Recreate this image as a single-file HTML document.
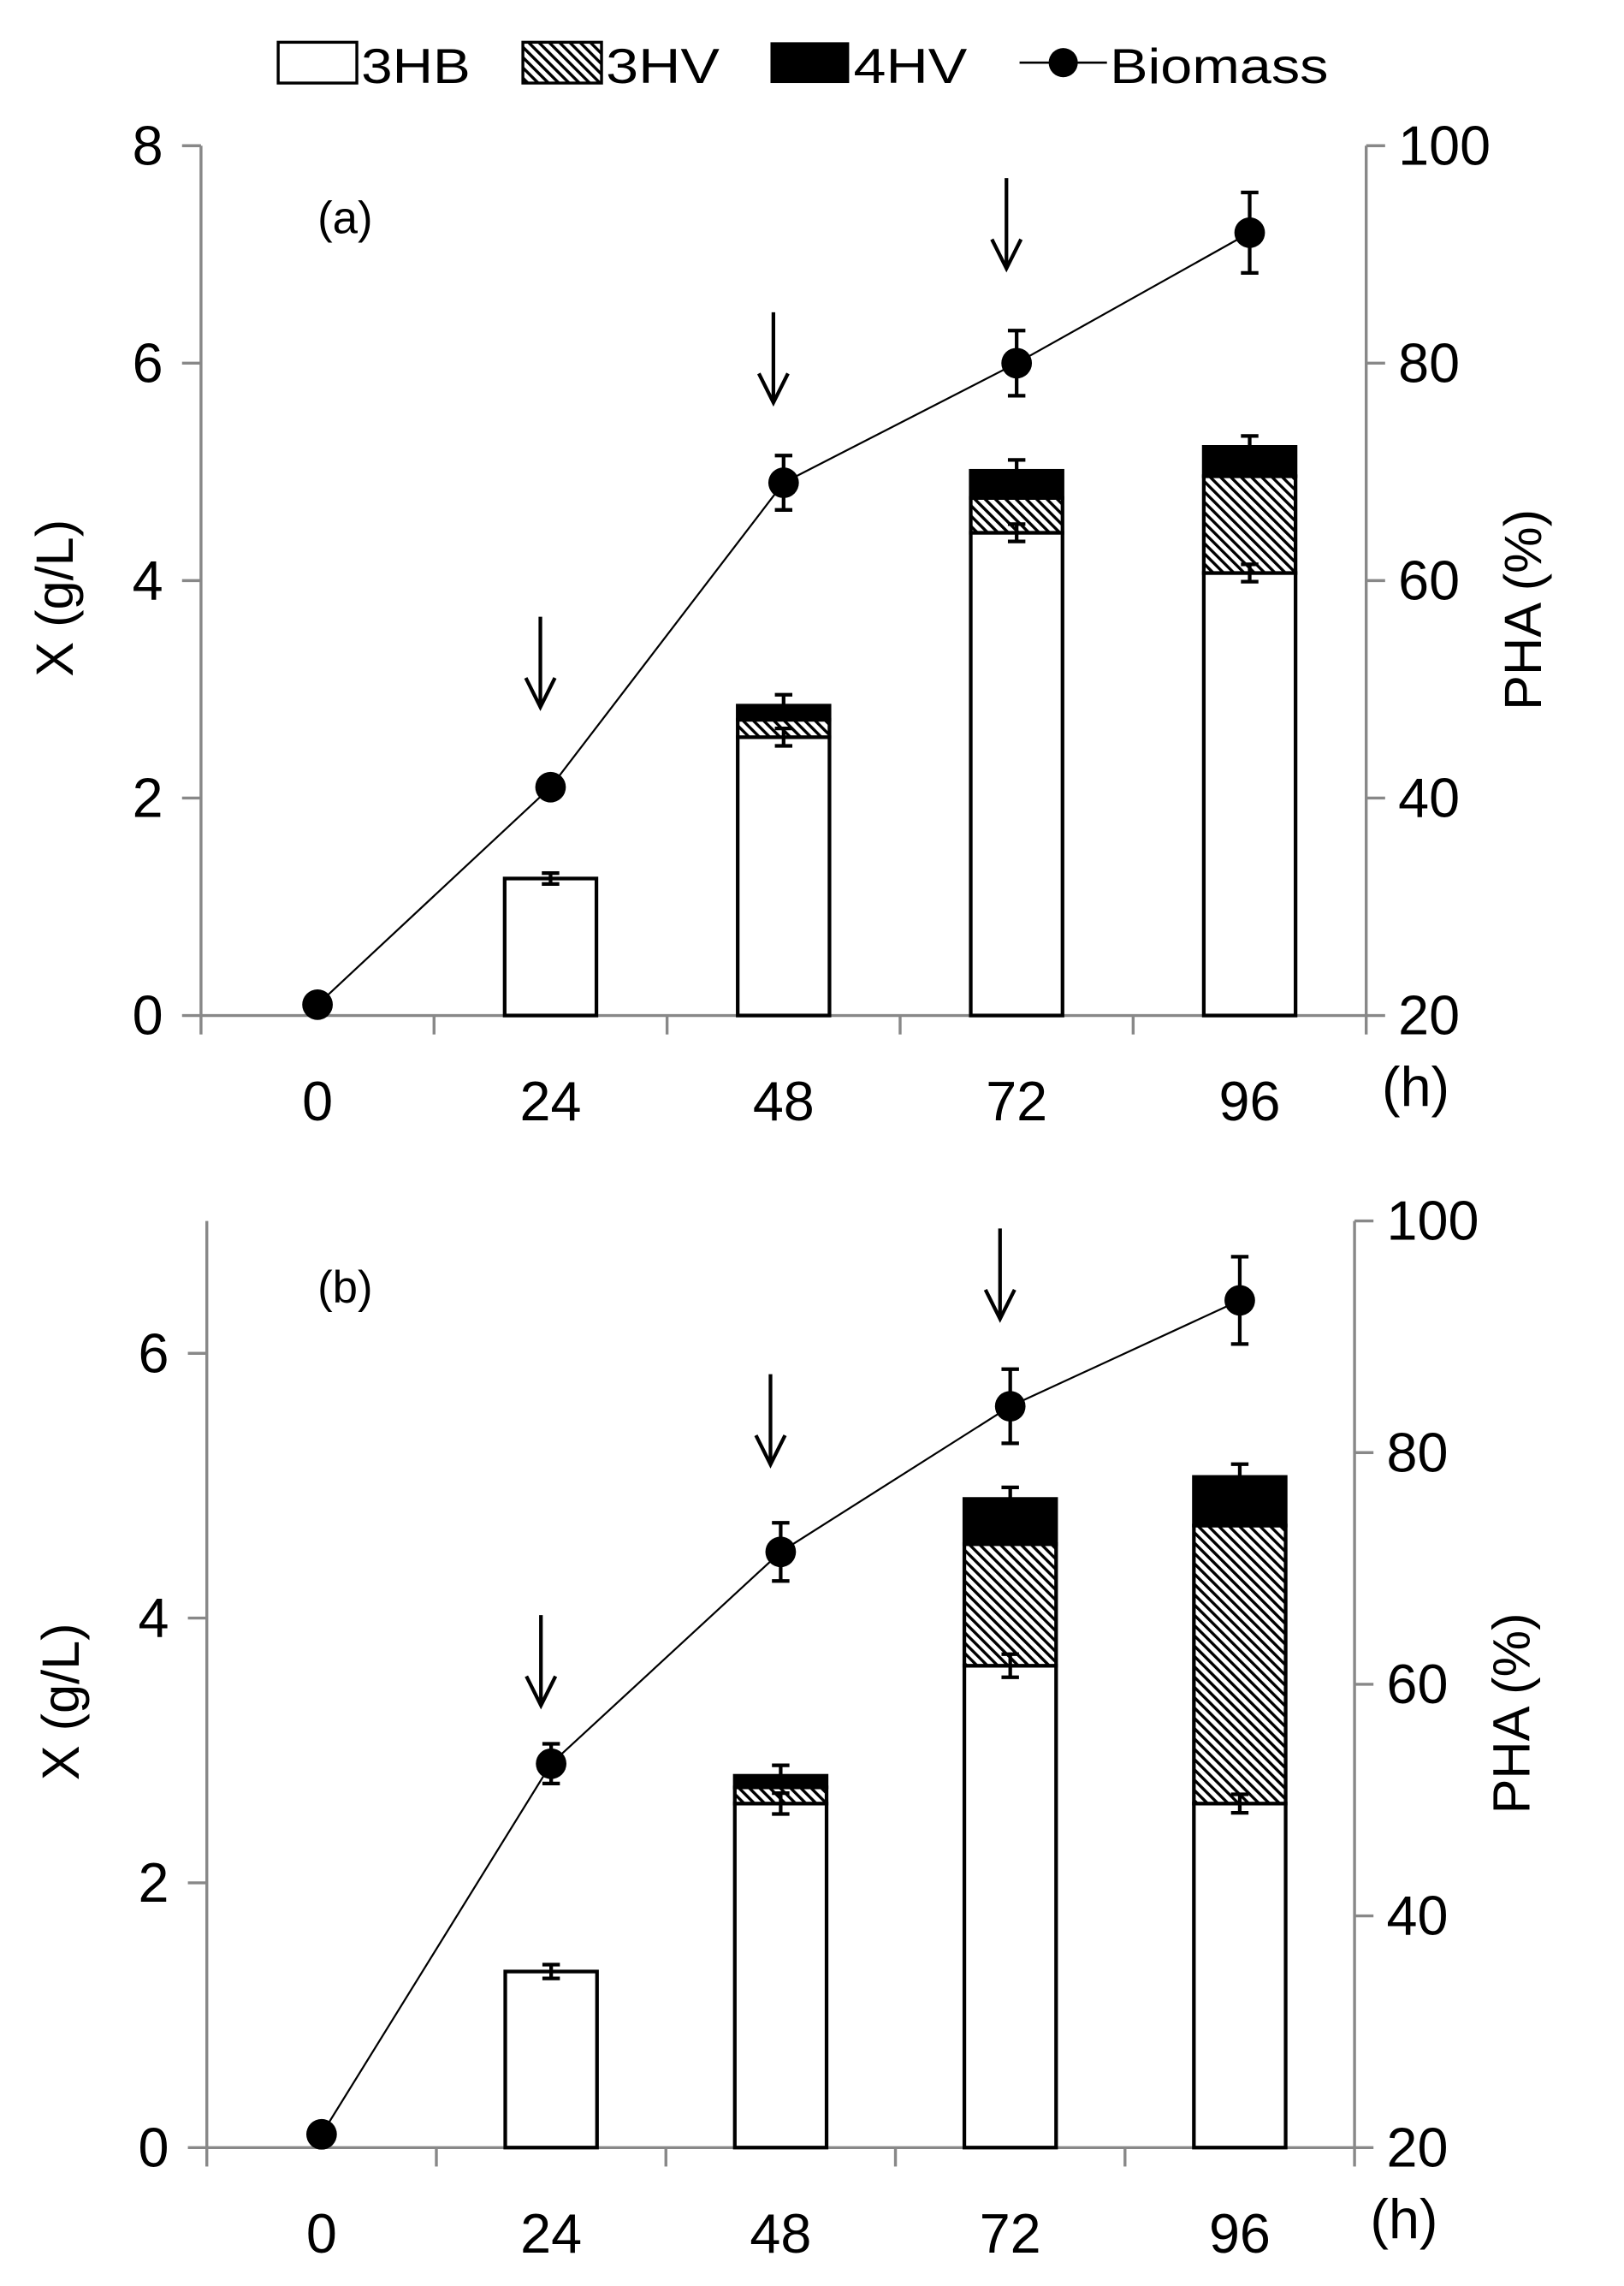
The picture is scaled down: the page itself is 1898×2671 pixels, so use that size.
<!DOCTYPE html>
<html><head><meta charset="utf-8"><style>
html,body{margin:0;padding:0;background:#fff;}
svg{display:block;}
text{font-family:"Liberation Sans",sans-serif;fill:#000;}
</style></head><body>
<svg id="fig" width="1898" height="2671" viewBox="0 0 1115 1569" preserveAspectRatio="none" xmlns="http://www.w3.org/2000/svg">
<defs>
<pattern id="hatch" patternUnits="userSpaceOnUse" width="5" height="5" patternTransform="rotate(-45)">
<rect width="5" height="5" fill="#fff"/><rect x="0" y="0" width="2" height="5" fill="#000"/>
</pattern>
</defs>
<g id="legend">
<g><rect x="191" y="29" width="54" height="28" fill="#fff" stroke="#000" stroke-width="2"/><text x="248" y="57" font-size="34" textLength="75" lengthAdjust="spacingAndGlyphs">3HB</text></g>
<g><rect x="359" y="29" width="54" height="28" fill="url(#hatch)" stroke="#000" stroke-width="2"/><text x="416" y="57" font-size="34" textLength="78" lengthAdjust="spacingAndGlyphs">3HV</text></g>
<g><rect x="529" y="29" width="54" height="28" fill="#000"/><text x="586" y="57" font-size="34" textLength="78" lengthAdjust="spacingAndGlyphs">4HV</text></g>
<g><line x1="700" y1="43" x2="760" y2="43" stroke="#000" stroke-width="1.5"/><circle cx="730" cy="43" r="10" fill="#000"/><text x="762" y="57" font-size="34" textLength="150" lengthAdjust="spacingAndGlyphs">Biomass</text></g>
</g>
<g id="chartA"></g>
<g id="chartB"></g>
</svg>
<script>
const categories = ["0","24","48","72","96"];
// Panel (a): PHA % cumulative tops (right axis), biomass X g/L (left axis)
const a_hb = [null, 32.6, 45.6, 64.4, 60.7];
const a_hv = [null, 32.6, 47.2, 67.6, 69.6];
const a_4hv = [null, 32.6, 48.5, 70.1, 72.3];
const a_hbErr = [0, 0.5, 0.8, 0.8, 0.8];
const a_topErr = [0, 0.5, 1.0, 1.0, 1.0];
const a_biomass = [0.1, 2.1, 4.9, 6.0, 7.2];
const a_bioErr = [0, 0, 0.25, 0.3, 0.37];
const a_leftTicks = [0, 2, 4, 6, 8];
const a_rightTicks = [20, 40, 60, 80, 100];
const a_arrows = [1, 2, 3];
// Panel (b)
const b_hb = [null, 35.2, 49.7, 61.6, 49.7];
const b_hv = [null, 35.2, 51.1, 72.1, 73.7];
const b_4hv = [null, 35.2, 52.1, 76.0, 77.9];
const b_hbErr = [0, 0.6, 0.9, 1.0, 0.8];
const b_topErr = [0, 0.6, 0.9, 1.0, 1.1];
const b_biomass = [0.1, 2.9, 4.5, 5.6, 6.4];
const b_bioErr = [0, 0.15, 0.22, 0.28, 0.33];
const b_leftTicks = [0, 2, 4, 6];
const b_rightTicks = [20, 40, 60, 80, 100];
const b_arrows = [1, 2, 3];

const NS = "http://www.w3.org/2000/svg";
function mk(parent, tag, attrs, txt){
  const e = document.createElementNS(NS, tag);
  for (const k in attrs) e.setAttribute(k, attrs[k]);
  if (txt !== undefined) e.textContent = txt;
  parent.appendChild(e); return e;
}

function draw(g, cfg){
  const L=cfg.left, R=cfg.right, B=cfg.bottom, T=cfg.top;
  const bw=(R-L)/categories.length;
  const xC = i => L + bw*(i+0.5);
  const yL = v => B - (v/cfg.lmax)*(B-T);
  const yR = v => B - ((v-20)/80)*(B-T);
  const barW = 63;
  let ax = mk(g,'line',{x1:L,y1:T,x2:L,y2:B,stroke:'#888','stroke-width':2});
   
  ax = mk(g,'line',{x1:R,y1:T,x2:R,y2:B,stroke:'#888','stroke-width':2});
   
  ax = mk(g,'line',{x1:L,y1:B,x2:R,y2:B,stroke:'#888','stroke-width':2});
   
  for(let i=0;i<=categories.length;i++){
    const x=L+bw*i; mk(g,'line',{x1:x,y1:B,x2:x,y2:B+13,stroke:'#888','stroke-width':2});
  }
  cfg.lt.forEach(v=>{
    mk(g,'line',{x1:L-13,y1:yL(v),x2:L,y2:yL(v),stroke:'#888','stroke-width':2});
    const t=mk(g,'text',{x:L-26,y:yL(v)+13,'font-size':38,'text-anchor':'end'},String(v));
     
  });
  cfg.rt.forEach(v=>{
    mk(g,'line',{x1:R,y1:yR(v),x2:R+13,y2:yR(v),stroke:'#888','stroke-width':2});
    const t=mk(g,'text',{x:R+22,y:yR(v)+13,'font-size':38},String(v));
     
  });
  categories.forEach((c,i)=>{
    const t=mk(g,'text',{x:xC(i),y:B+72,'font-size':38,'text-anchor':'middle'},c);
     
  });
  let t=mk(g,'text',{x:R+34,y:B+62,'font-size':38,'text-anchor':'middle'},'(h)');
   
  const my=(T+B)/2;
  t=mk(g,'text',{x:0,y:0,'font-size':36,'text-anchor':'middle',transform:`translate(${L-88},${my+12}) rotate(-90)`},'X (g/L)');
   
  t=mk(g,'text',{x:0,y:0,'font-size':36,'text-anchor':'middle',transform:`translate(${R+120},${my+20}) rotate(-90)`},'PHA (%)');
   
  t=mk(g,'text',{x:cfg.labX,y:cfg.labY,'font-size':31},cfg.label);
   
  categories.forEach((c,i)=>{
    if(cfg.hb[i]==null) return;
    const x=xC(i)-barW/2;
    let r=mk(g,'rect',{x:x,y:yR(cfg.hb[i]),width:barW,height:B-yR(cfg.hb[i]),fill:'#fff',stroke:'#000','stroke-width':2.5});
     
    if(cfg.hv[i]>cfg.hb[i]){
      r=mk(g,'rect',{x:x,y:yR(cfg.hv[i]),width:barW,height:yR(cfg.hb[i])-yR(cfg.hv[i]),fill:'url(#hatch)',stroke:'#000','stroke-width':2.5});
       
    }
    if(cfg.v4[i]>cfg.hv[i]){
      r=mk(g,'rect',{x:x,y:yR(cfg.v4[i]),width:barW,height:yR(cfg.hv[i])-yR(cfg.v4[i]),fill:'#000',stroke:'#000','stroke-width':2.5});
       
    }
    const eb=(v,e)=>{ if(!e) return; const xx=xC(i);
      mk(g,'line',{x1:xx,y1:yR(v+e),x2:xx,y2:yR(v-e),stroke:'#000','stroke-width':2.5});
      mk(g,'line',{x1:xx-6,y1:yR(v+e),x2:xx+6,y2:yR(v+e),stroke:'#000','stroke-width':2.5});
      mk(g,'line',{x1:xx-6,y1:yR(v-e),x2:xx+6,y2:yR(v-e),stroke:'#000','stroke-width':2.5});};
    if(cfg.hv[i]>cfg.hb[i]) eb(cfg.hb[i],cfg.hbE[i]);
    eb(cfg.v4[i],cfg.topE[i]);
  });
  const pts=cfg.bio.map((v,i)=>xC(i)+','+yL(v)).join(' ');
  const pl=mk(g,'polyline',{points:pts,fill:'none',stroke:'#000','stroke-width':1.3});
   
  cfg.bio.forEach((v,i)=>{
    const e=cfg.bioE[i], xx=xC(i);
    if(e){
      mk(g,'line',{x1:xx,y1:yL(v+e),x2:xx,y2:yL(v-e),stroke:'#000','stroke-width':2.5});
      mk(g,'line',{x1:xx-6,y1:yL(v+e),x2:xx+6,y2:yL(v+e),stroke:'#000','stroke-width':2.5});
      mk(g,'line',{x1:xx-6,y1:yL(v-e),x2:xx+6,y2:yL(v-e),stroke:'#000','stroke-width':2.5});
    }
    const c=mk(g,'circle',{cx:xx,cy:yL(v),r:10.5,fill:'#000'});
     
  });
  cfg.arrows.forEach(i=>{
    const xx=xC(i)-7, tip=yL(cfg.bio[i])-(cfg.arrowGap[i]||0);
    const ag=mk(g,'g',{});
     
    mk(ag,'line',{x1:xx,y1:tip-62,x2:xx,y2:tip,stroke:'#000','stroke-width':2.5});
    mk(ag,'polyline',{points:`${xx-10},${tip-20} ${xx},${tip} ${xx+10},${tip-20}`,fill:'none',stroke:'#000','stroke-width':2.5});
  });
}

draw(document.getElementById('chartA'),{left:138,right:938,top:100,bottom:697,lmax:8,lt:a_leftTicks,rt:a_rightTicks,
  hb:a_hb,hv:a_hv,v4:a_4hv,hbE:a_hbErr,topE:a_topErr,bio:a_biomass,bioE:a_bioErr,arrows:a_arrows,
  arrowGap:[0,55,55,65],label:'(a)',labX:218,labY:160});
draw(document.getElementById('chartB'),{left:142,right:930,top:838,bottom:1474,lmax:7,lt:b_leftTicks,rt:b_rightTicks,
  hb:b_hb,hv:b_hv,v4:b_4hv,hbE:b_hbErr,topE:b_topErr,bio:b_biomass,bioE:b_bioErr,arrows:b_arrows,
  arrowGap:[0,40,60,60],label:'(b)',labX:218,labY:894});
</script>
</body></html>
